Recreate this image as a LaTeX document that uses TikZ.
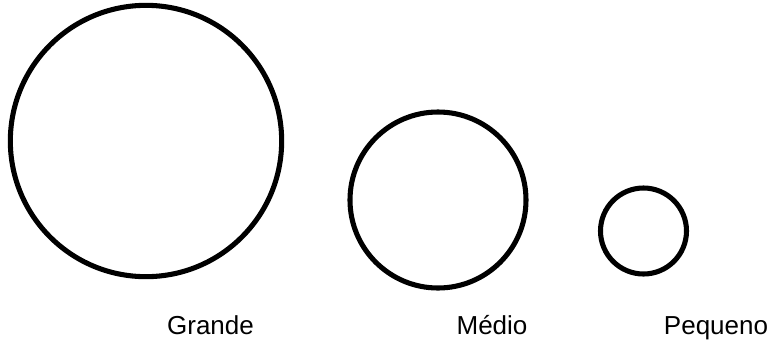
\documentclass[tikz,border=0pt]{standalone}
\usepackage{fontspec}
\setmainfont{Liberation Sans}
\usetikzlibrary{positioning}

\begin{document}
\begin{tikzpicture}[x=0.75pt, y=-0.75pt,
    ring/.style={draw=black, line width=3.8pt, circle, inner sep=0pt},
    sizelabel/.style={anchor=base, font=\fontsize{19.5}{23}\selectfont}]
  \useasboundingbox (0,0) rectangle (769,340);
  % circles
  \node[ring, minimum size=203.5pt] (grande) at (146,141) {};
  \node[ring, minimum size=132pt] (medio) at (438,200) {};
  \node[ring, minimum size=64.5pt] (pequeno) at (643.5,231) {};
  % labels
  \node[sizelabel] (lgrande) at (210.5,334) {Grande};
  \node[sizelabel] (lmedio) at (492,334) {Médio};
  \node[sizelabel] (lpequeno) at (716,334) {Pequeno};
\end{tikzpicture}
\end{document}
